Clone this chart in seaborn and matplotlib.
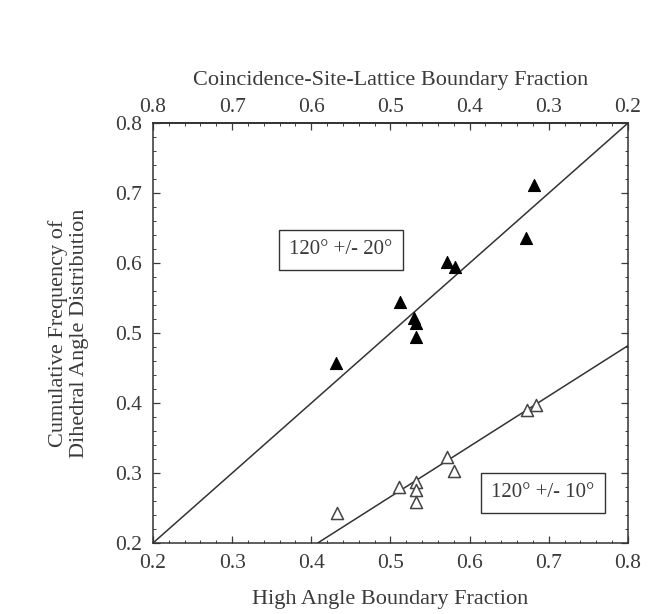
import matplotlib
matplotlib.use("Agg")
import matplotlib.pyplot as plt
import seaborn as sns
import pandas as pd

# Data
hab_20 = [0.681, 0.671, 0.571, 0.581, 0.512, 0.530, 0.532, 0.532, 0.431]
freq_20 = [0.711, 0.636, 0.601, 0.594, 0.544, 0.521, 0.514, 0.494, 0.457]
hab_10 = [0.432, 0.511, 0.532, 0.532, 0.532, 0.571, 0.580, 0.672, 0.684]
freq_10 = [0.243, 0.280, 0.287, 0.276, 0.259, 0.323, 0.303, 0.390, 0.397]
fit20_x = [0.2, 0.8]
fit20_y = [0.2, 0.8]
fit10_x = [0.408, 0.8]
fit10_y = [0.2, 0.482]
label_20 = "120° +/- 20°"
label_10 = "120° +/- 10°"
ticks = [0.2, 0.3, 0.4, 0.5, 0.6, 0.7, 0.8]

sns.set_theme(style="ticks")
plt.rcParams['font.family'] = ['Liberation Serif', 'DejaVu Serif']

df = pd.DataFrame({
    "hab": hab_20 + hab_10,
    "freq": freq_20 + freq_10,
    "set": [label_20] * len(hab_20) + [label_10] * len(hab_10),
})

TXT = "#3a3a3a"
fig = plt.figure(figsize=(6.69, 6.14), dpi=100)
ax = fig.add_axes([0.2287, 0.1156, 0.71, 0.684])

sns.lineplot(x=fit20_x, y=fit20_y, ax=ax, color="#333333", linewidth=1.1)
sns.lineplot(x=fit10_x, y=fit10_y, ax=ax, color="#333333", linewidth=1.1)

d20 = df[df["set"] == label_20]
d10 = df[df["set"] == label_10]
sns.scatterplot(data=d20, x="hab", y="freq", ax=ax, marker="^", s=75,
                color="black", edgecolor="black", linewidth=0.8, zorder=3)
sns.scatterplot(data=d10, x="hab", y="freq", ax=ax, marker="^", s=75,
                facecolor="white", edgecolor="#444444", linewidth=1.1, zorder=3)

ax.set_xlim(0.2, 0.8)
ax.set_ylim(0.2, 0.8)
ax.set_xticks(ticks)
ax.set_yticks(ticks)
ax.set_xticklabels([f"{t:.1f}" for t in ticks])
ax.set_yticklabels([f"{t:.1f}" for t in ticks])
ax.set_xticks([0.2 + 0.02 * i for i in range(31)], minor=True)
ax.set_yticks([0.2 + 0.02 * i for i in range(31)], minor=True)
ax.tick_params(which="both", direction="in", top=False, right=True,
               labelsize=15.5, colors=TXT)
ax.tick_params(axis="x", which="major", pad=8)
ax.tick_params(axis="y", which="major", pad=8)
ax.tick_params(which="major", length=5, width=0.9)
ax.tick_params(which="minor", length=2.5, width=0.7)
ax.set_xlabel("High Angle Boundary Fraction", fontsize=16, color=TXT, labelpad=12)
ax.set_ylabel("Cumulative Frequency of\nDihedral Angle Distribution", fontsize=16,
              color=TXT, linespacing=1.1)
ax.yaxis.set_label_coords(-0.135, 0.5)
for sp in ax.spines.values():
    sp.set_color("#333333")
    sp.set_linewidth(1.1)

sec = ax.secondary_xaxis("top", functions=(lambda x: 1 - x, lambda x: 1 - x))
sec.set_xticks(ticks)
sec.set_xticklabels([f"{t:.1f}" for t in ticks])
sec.set_xticks([0.2 + 0.02 * i for i in range(31)], minor=True)
sec.tick_params(which="both", direction="in", labelsize=15.5, colors=TXT)
sec.tick_params(which="major", length=5, width=0.9, pad=4)
sec.tick_params(which="minor", length=2.5, width=0.7)
sec.set_xlabel("Coincidence-Site-Lattice Boundary Fraction", fontsize=16,
               color=TXT, labelpad=10)

box = dict(boxstyle="square,pad=0.5", facecolor="white", edgecolor="#333333", linewidth=1.0)
ax.text(0.4375, 0.619, label_20, fontsize=15, ha="center", va="center", bbox=box, color=TXT)
ax.text(0.6926, 0.272, label_10, fontsize=15, ha="center", va="center", bbox=box, color=TXT)

fig.savefig("out.png", dpi=100)
